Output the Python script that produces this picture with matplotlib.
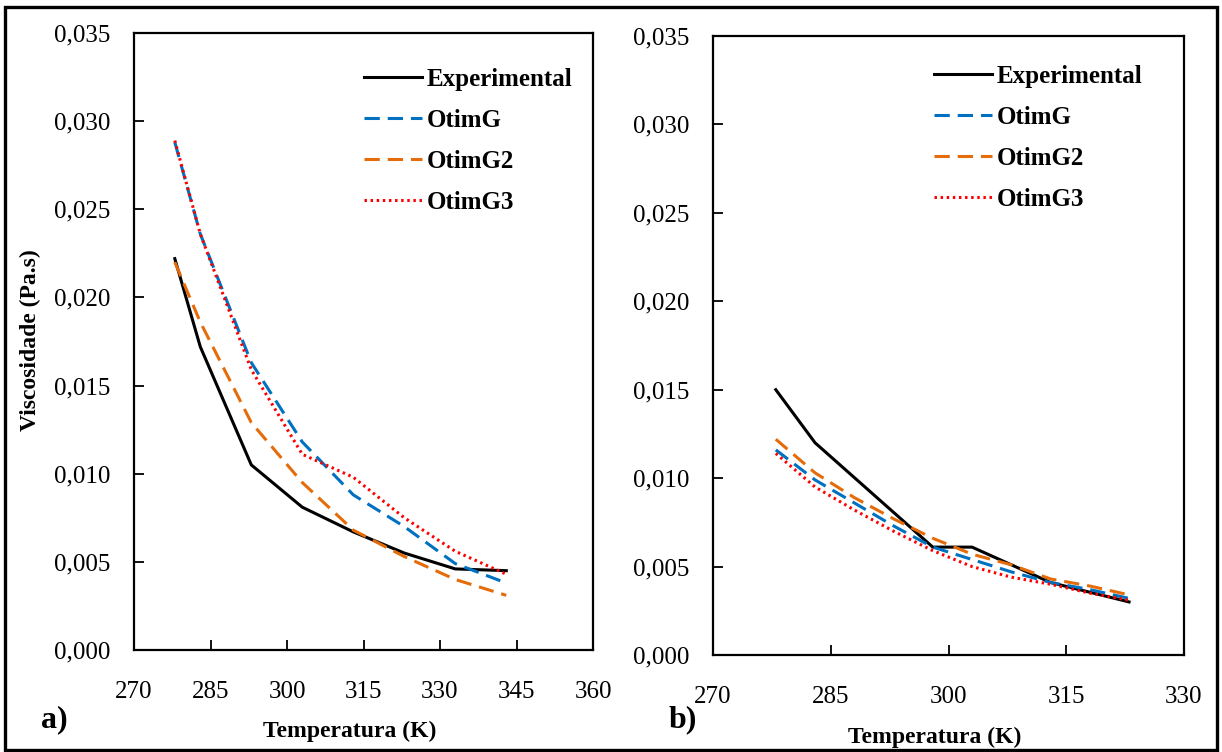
import matplotlib
matplotlib.use("Agg")
import matplotlib.pyplot as plt
from matplotlib.ticker import FuncFormatter, MultipleLocator
from matplotlib.patches import Rectangle

plt.rcParams['font.family'] = ['Liberation Serif', 'DejaVu Serif']
plt.rcParams['font.size'] = 18

# a) dados do painel esquerdo
T_a = [278, 283, 293, 303, 313, 323, 333, 343]
exp_a = [0.0222, 0.0172, 0.0105, 0.0081, 0.0067, 0.0055, 0.0046, 0.0045]
otimg_a = [0.0288, 0.0236, 0.0163, 0.0118, 0.0088, 0.0070, 0.0049, 0.0038]
otimg2_a = [0.0220, 0.0186, 0.0129, 0.0095, 0.0068, 0.0053, 0.0040, 0.0031]
otimg3_a = [0.0289, 0.0236, 0.0159, 0.0111, 0.0098, 0.0075, 0.0056, 0.0043]

# b) dados do painel direito
T_b_exp = [278, 283, 298, 303, 313, 323]
exp_b = [0.0150, 0.0120, 0.0061, 0.0061, 0.0041, 0.0030]
T_b = [278, 283, 288, 293, 298, 303, 308, 313, 318, 323]
otimg_b = [0.0116, 0.0099, 0.0086, 0.0073, 0.0061, 0.0054, 0.0047, 0.0041, 0.0037, 0.0032]
otimg2_b = [0.0122, 0.0103, 0.0089, 0.0077, 0.0066, 0.0057, 0.0051, 0.0043, 0.0039, 0.0034]
otimg3_b = [0.0114, 0.0095, 0.0082, 0.0070, 0.0059, 0.0050, 0.0044, 0.0040, 0.0035, 0.0031]

labels = ['Experimental', 'OtimG', 'OtimG2', 'OtimG3']
c_blue = '#0070C0'
c_orange = '#E46C0A'
c_red = '#FF0000'

fig = plt.figure(figsize=(12.22, 7.52), dpi=100)
W, H = 1222, 752


def axes_px(x0, y0, x1, y1):
    return fig.add_axes([x0 / W, 1 - y1 / H, (x1 - x0) / W, (y1 - y0) / H])


ax1 = axes_px(134, 33, 593, 650)
ax2 = axes_px(713, 36, 1184, 655)

lw = 2.2
for ax, Te, e, Tm, g, g2, g3 in [(ax1, T_a, exp_a, T_a, otimg_a, otimg2_a, otimg3_a),
                                  (ax2, T_b_exp, exp_b, T_b, otimg_b, otimg2_b, otimg3_b)]:
    ax.plot(Te, e, color='black', lw=lw, label=labels[0])
    ax.plot(Tm, g, color=c_blue, lw=lw, ls=(0, (5, 2.6)), label=labels[1])
    ax.plot(Tm, g2, color=c_orange, lw=lw, ls=(0, (5, 2.6)), label=labels[2])
    ax.plot(Tm, g3, color=c_red, lw=lw, ls=(0, (0.8, 1.2)), label=labels[3])
    ax.set_ylim(0, 0.035)
    ax.yaxis.set_major_locator(MultipleLocator(0.005))
    ax.yaxis.set_major_formatter(FuncFormatter(lambda v, p: f"{v:.3f}".replace('.', ',')))
    ax.xaxis.set_major_locator(MultipleLocator(15))
    ax.tick_params(direction='in', length=7, width=1.3)
    ax.tick_params(axis='y', pad=17)
    ax.tick_params(axis='x', pad=22)
    for s in ax.spines.values():
        s.set_linewidth(1.6)

ax1.set_xlim(270, 360)
ax2.set_xlim(270, 330)

leg_kw = dict(bbox_transform=fig.transFigure, loc='upper left', frameon=False, borderpad=0,
              borderaxespad=0, handlelength=2.3, handletextpad=0.2, labelspacing=0.72,
              prop={'weight': 'bold', 'size': 18})
ax1.legend(bbox_to_anchor=(364 / W, 1 - 68 / H), **leg_kw)
ax2.legend(bbox_to_anchor=(934 / W, 1 - 65 / H), **leg_kw)

fig.text(30 / W, 1 - 340 / H, 'Viscosidade (Pa.s)', rotation=90, ha='center', va='center',
         fontweight='bold', fontsize=17)
fig.text(350 / W, 1 - 731 / H, 'Temperatura (K)', ha='center', va='center', fontweight='bold', fontsize=17)
fig.text(935 / W, 1 - 737 / H, 'Temperatura (K)', ha='center', va='center', fontweight='bold', fontsize=17)
fig.text(54 / W, 1 - 720 / H, 'a)', ha='center', va='center', fontweight='bold', fontsize=23)
fig.text(683 / W, 1 - 720 / H, 'b)', ha='center', va='center', fontweight='bold', fontsize=23)

# moldura externa
fig.patches.append(Rectangle((5 / W, 2 / H), 1212 / W, 743 / H, transform=fig.transFigure,
                             fill=False, edgecolor='black', lw=2.4))

fig.savefig('out.png', dpi=100)
